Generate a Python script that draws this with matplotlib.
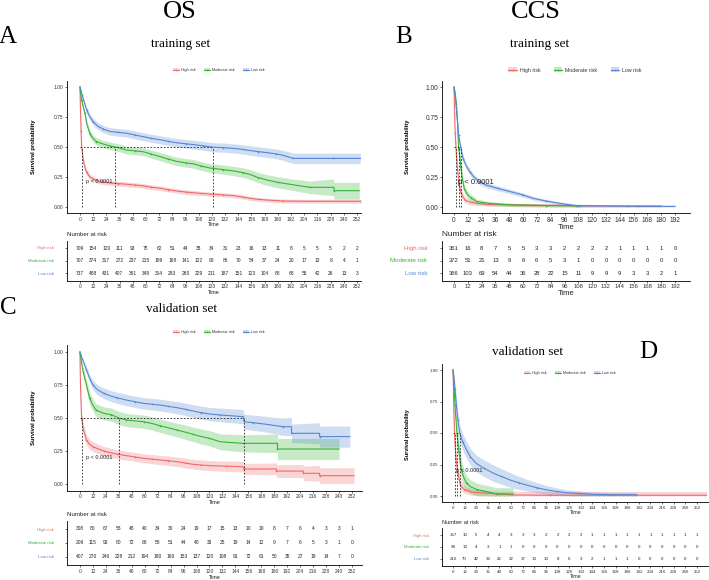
import matplotlib

matplotlib.use("Agg")
import matplotlib.pyplot as plt
from matplotlib.lines import Line2D
from matplotlib.patches import Patch
import numpy as np

W, H = 709, 580

GROUPS = ["High risk", "Moderate risk", "Low risk"]
COLORS = ["#EE6A6A", "#33B533", "#5585D5"]

# ---- OS training (A) ----
A_HIGH_T = [0, 0.5, 1, 1.5, 3, 4.5, 6, 9, 12, 15, 21, 27, 35, 42, 50, 58, 65, 73, 80, 88, 96, 103, 110, 118, 130, 140, 148, 155, 162, 170, 185, 200, 257]
A_HIGH_S = [1.0, 0.80, 0.63, 0.50, 0.39, 0.33, 0.29, 0.25, 0.235, 0.22, 0.207, 0.20, 0.195, 0.19, 0.183, 0.175, 0.165, 0.156, 0.145, 0.133, 0.125, 0.119, 0.113, 0.108, 0.101, 0.094, 0.083, 0.072, 0.064, 0.058, 0.050, 0.048, 0.048]
A_HIGH_CI = [0, 0.03, 0.03, 0.03, 0.028, 0.026, 0.025, 0.023, 0.022, 0.021, 0.021, 0.02, 0.02, 0.02, 0.02, 0.02, 0.02, 0.02, 0.019, 0.019, 0.019, 0.019, 0.018, 0.018, 0.018, 0.018, 0.017, 0.017, 0.016, 0.016, 0.016, 0.016, 0.016]
A_MOD_T = [0, 0.5, 1.5, 3, 4.5, 6, 9, 12, 15, 21, 27, 32, 37, 42, 50, 58, 65, 73, 80, 88, 96, 103, 110, 118, 130, 140, 148, 155, 162, 170, 180, 194, 209, 231, 231, 254]
A_MOD_S = [1.0, 0.95, 0.89, 0.83, 0.78, 0.70, 0.61, 0.57, 0.545, 0.525, 0.51, 0.50, 0.49, 0.475, 0.468, 0.46, 0.44, 0.42, 0.40, 0.38, 0.368, 0.36, 0.342, 0.325, 0.312, 0.30, 0.287, 0.27, 0.245, 0.225, 0.205, 0.185, 0.164, 0.164, 0.136, 0.136]
A_MOD_CI = [0, 0.01, 0.02, 0.024, 0.026, 0.028, 0.03, 0.03, 0.031, 0.031, 0.032, 0.032, 0.032, 0.032, 0.033, 0.033, 0.034, 0.034, 0.035, 0.035, 0.036, 0.036, 0.037, 0.037, 0.038, 0.039, 0.04, 0.041, 0.043, 0.044, 0.046, 0.048, 0.052, 0.07, 0.07, 0.07]
A_LOW_T = [0, 1, 2, 4, 6, 9, 12, 16, 21, 27, 35, 42, 50, 58, 65, 73, 80, 88, 96, 103, 112, 121, 130, 140, 148, 155, 162, 170, 178, 185, 194, 210, 230, 255]
A_LOW_S = [1.0, 0.97, 0.93, 0.87, 0.81, 0.75, 0.71, 0.675, 0.65, 0.63, 0.622, 0.615, 0.60, 0.585, 0.572, 0.56, 0.548, 0.535, 0.527, 0.52, 0.51, 0.498, 0.495, 0.488, 0.48, 0.47, 0.462, 0.453, 0.443, 0.43, 0.405, 0.405, 0.405, 0.405]
A_LOW_CI = [0, 0.005, 0.015, 0.02, 0.024, 0.026, 0.028, 0.029, 0.03, 0.031, 0.032, 0.032, 0.033, 0.033, 0.034, 0.034, 0.035, 0.035, 0.036, 0.036, 0.037, 0.037, 0.038, 0.038, 0.039, 0.039, 0.04, 0.04, 0.041, 0.042, 0.044, 0.044, 0.044, 0.044]

# ---- CCS training (B) ----
B_HIGH_T = [0, 0.5, 1, 2, 3, 4, 6, 8, 10, 14, 20, 30, 60, 100, 150, 180]
B_HIGH_S = [1.0, 0.80, 0.62, 0.45, 0.32, 0.22, 0.12, 0.08, 0.055, 0.04, 0.03, 0.022, 0.016, 0.012, 0.008, 0.008]
B_HIGH_CI = [0, 0.04, 0.05, 0.05, 0.045, 0.04, 0.033, 0.028, 0.023, 0.02, 0.018, 0.015, 0.013, 0.012, 0.01, 0.01]
B_MOD_T = [0, 1, 2, 3, 4, 5, 6, 7, 9, 12, 15, 20, 30, 50, 80, 111]
B_MOD_S = [1.0, 0.95, 0.86, 0.72, 0.49, 0.42, 0.33, 0.25, 0.15, 0.10, 0.075, 0.045, 0.03, 0.017, 0.012, 0.01]
B_MOD_CI = [0, 0.02, 0.035, 0.045, 0.05, 0.05, 0.048, 0.044, 0.036, 0.03, 0.027, 0.02, 0.017, 0.013, 0.012, 0.012]
B_LOW_T = [0, 1, 2, 3, 4, 6, 8, 11, 14, 17, 22, 28, 38, 49, 60, 69, 80, 92, 107, 130, 160, 192]
B_LOW_S = [1.0, 0.93, 0.83, 0.72, 0.60, 0.49, 0.40, 0.336, 0.29, 0.253, 0.21, 0.183, 0.155, 0.128, 0.10, 0.072, 0.05, 0.03, 0.01, 0.008, 0.006, 0.005]
B_LOW_CI = [0, 0.013, 0.02, 0.024, 0.026, 0.026, 0.026, 0.025, 0.024, 0.023, 0.022, 0.021, 0.02, 0.019, 0.017, 0.015, 0.013, 0.012, 0.01, 0.01, 0.01, 0.01]

# ---- OS validation (C) ----
C_HIGH_T = [0, 0.5, 1.5, 3, 6, 9, 12, 17, 22, 28, 35, 43, 51, 59, 67, 74, 82, 90, 98, 105, 112, 120, 135, 151, 152, 182, 182, 207, 207, 222, 222, 254]
C_HIGH_S = [1.0, 0.75, 0.50, 0.42, 0.333, 0.30, 0.283, 0.265, 0.25, 0.237, 0.225, 0.215, 0.205, 0.194, 0.188, 0.182, 0.176, 0.169, 0.158, 0.149, 0.144, 0.139, 0.135, 0.131, 0.114, 0.114, 0.098, 0.098, 0.081, 0.081, 0.063, 0.063]
C_HIGH_CI = [0, 0.04, 0.045, 0.043, 0.04, 0.038, 0.037, 0.036, 0.035, 0.035, 0.034, 0.034, 0.034, 0.034, 0.035, 0.035, 0.036, 0.036, 0.037, 0.037, 0.038, 0.038, 0.039, 0.04, 0.042, 0.045, 0.048, 0.05, 0.055, 0.06, 0.06, 0.06]
C_MOD_T = [0, 1, 3, 6, 9, 12, 15, 22, 29, 36, 43, 51, 59, 67, 74, 82, 90, 98, 105, 112, 120, 130, 151, 183, 183, 240]
C_MOD_S = [1.0, 0.94, 0.85, 0.75, 0.65, 0.595, 0.56, 0.535, 0.525, 0.50, 0.485, 0.478, 0.472, 0.458, 0.442, 0.425, 0.409, 0.392, 0.376, 0.36, 0.346, 0.32, 0.308, 0.308, 0.265, 0.265]
C_MOD_CI = [0, 0.02, 0.03, 0.04, 0.045, 0.047, 0.048, 0.05, 0.05, 0.05, 0.05, 0.05, 0.05, 0.05, 0.05, 0.051, 0.052, 0.054, 0.055, 0.057, 0.058, 0.06, 0.065, 0.07, 0.08, 0.08]
C_LOW_T = [0, 1, 2, 4, 6, 9, 12, 16, 22, 28, 34, 43, 51, 59, 67, 74, 82, 90, 98, 105, 112, 120, 130, 140, 151, 152, 160, 173, 188, 196, 196, 222, 222, 250]
C_LOW_S = [1.0, 0.98, 0.95, 0.91, 0.864, 0.80, 0.75, 0.715, 0.687, 0.668, 0.654, 0.636, 0.623, 0.611, 0.604, 0.598, 0.588, 0.578, 0.565, 0.553, 0.541, 0.53, 0.523, 0.517, 0.51, 0.472, 0.465, 0.452, 0.434, 0.434, 0.384, 0.384, 0.359, 0.359]
C_LOW_CI = [0, 0.004, 0.01, 0.018, 0.025, 0.03, 0.035, 0.038, 0.04, 0.041, 0.042, 0.043, 0.043, 0.044, 0.044, 0.045, 0.045, 0.046, 0.047, 0.048, 0.049, 0.05, 0.052, 0.053, 0.054, 0.056, 0.058, 0.06, 0.065, 0.07, 0.07, 0.08, 0.08, 0.08]

# ---- CCS validation (D) ----
D_HIGH_T = [0, 1, 2, 3, 5, 8, 12, 20, 40, 62, 100, 262]
D_HIGH_S = [1.0, 0.62, 0.42, 0.30, 0.18, 0.08, 0.05, 0.03, 0.02, 0.008, 0.006, 0.006]
D_HIGH_CI = [0, 0.07, 0.07, 0.065, 0.055, 0.04, 0.03, 0.025, 0.02, 0.03, 0.03, 0.03]
D_MOD_T = [0, 1, 2, 4, 6, 7, 9, 11, 14, 18, 25, 35, 45, 62]
D_MOD_S = [1.0, 0.88, 0.72, 0.50, 0.36, 0.29, 0.20, 0.15, 0.10, 0.074, 0.05, 0.034, 0.016, 0.016]
D_MOD_CI = [0, 0.06, 0.08, 0.09, 0.09, 0.085, 0.075, 0.07, 0.06, 0.055, 0.05, 0.05, 0.05, 0.05]
D_LOW_T = [0, 1, 2, 4, 5, 7, 10, 14, 18, 24, 32, 42, 50, 59, 68, 76, 87, 97, 107, 117, 130, 145, 165, 190]
D_LOW_S = [1.0, 0.93, 0.85, 0.68, 0.60, 0.497, 0.43, 0.365, 0.31, 0.259, 0.22, 0.18, 0.155, 0.127, 0.105, 0.087, 0.065, 0.048, 0.036, 0.026, 0.02, 0.013, 0.01, 0.01]
D_LOW_CI = [0, 0.03, 0.045, 0.055, 0.06, 0.065, 0.066, 0.066, 0.066, 0.066, 0.066, 0.065, 0.062, 0.058, 0.052, 0.046, 0.04, 0.034, 0.028, 0.024, 0.02, 0.018, 0.016, 0.016]

# ---- number at risk ----
A_RISK_TIMES = list(range(0, 253, 12))
A_RISK_HIGH = [709, 154, 120, 111, 93, 75, 62, 51, 44, 38, 34, 31, 23, 16, 13, 11, 8, 5, 5, 5, 2, 2]
A_RISK_MOD = [707, 374, 317, 272, 237, 215, 189, 168, 141, 122, 98, 86, 70, 54, 37, 24, 20, 17, 13, 8, 4, 1]
A_RISK_LOW = [737, 488, 431, 407, 361, 348, 314, 283, 260, 229, 211, 187, 151, 123, 104, 88, 68, 55, 42, 26, 13, 3]
B_RISK_TIMES = list(range(0, 193, 12))
B_RISK_HIGH = [361, 16, 8, 7, 5, 5, 3, 3, 2, 2, 2, 2, 1, 1, 1, 1, 0]
B_RISK_MOD = [372, 51, 21, 13, 9, 6, 6, 5, 3, 1, 0, 0, 0, 0, 0, 0, 0]
B_RISK_LOW = [366, 103, 69, 54, 44, 36, 28, 22, 15, 11, 9, 9, 9, 3, 3, 2, 1]
C_RISK_TIMES = list(range(0, 253, 12))
C_RISK_HIGH = [308, 80, 67, 58, 48, 40, 34, 30, 24, 19, 17, 15, 13, 10, 10, 8, 7, 6, 4, 3, 3, 1]
C_RISK_MOD = [209, 115, 93, 80, 72, 68, 58, 51, 44, 40, 33, 25, 19, 14, 12, 9, 7, 6, 5, 3, 1, 0]
C_RISK_LOW = [407, 270, 246, 228, 212, 194, 180, 166, 153, 137, 120, 108, 91, 72, 61, 50, 38, 27, 19, 14, 7, 0]
D_RISK_TIMES = list(range(0, 253, 12))
D_RISK_HIGH = [157, 10, 5, 4, 4, 3, 3, 3, 2, 2, 2, 2, 1, 1, 1, 1, 1, 1, 1, 1, 1, 1]
D_RISK_MOD = [99, 13, 4, 3, 1, 1] + [0] * 16
D_RISK_LOW = [216, 70, 42, 33, 26, 22, 17, 13, 10, 8, 6, 3, 2, 1, 1, 1, 0, 0, 0, 0, 0, 0]


def px_axes(fig, left, top, right, bottom):
    return fig.add_axes([left / W, 1 - bottom / H, (right - left) / W, (bottom - top) / H])


def ftext(fig, x, y, s, **kw):
    fig.text(x / W, 1 - y / H, s, **kw)


def style_axis(ax, fs):
    for side in ("top", "right"):
        ax.spines[side].set_visible(False)
    for side in ("left", "bottom"):
        ax.spines[side].set_linewidth(0.6)
    ax.tick_params(length=1.5, width=0.5, labelsize=fs, pad=1.2, colors="#333333")


def km_panel(fig, box, xlim, curves, fs, pval_xy, pval_fs):
    ax = px_axes(fig, *box)
    medians = []
    for (t, s, ci), col in zip(curves, COLORS):
        t = np.asarray(t, float)
        s = np.asarray(s, float)
        ci = np.asarray(ci, float)
        lo = np.clip(s - ci, 0, 1)
        hi = np.clip(s + ci, 0, 1)
        ax.fill_between(t, lo, hi, color=col, alpha=0.28, lw=0)
        ax.plot(t, s, color=col, lw=0.8)
        ax.plot(t[2::2], s[2::2], ls="none", marker="+", ms=1.8, mew=0.4, color=col)
        below = np.nonzero(s <= 0.5)[0]
        if len(below):
            medians.append(t[below[0]])
    for m in medians:
        ax.plot([m, m], [0, 0.5], ls=(0, (2, 2)), color="#222222", lw=0.6)
    ax.plot([0, max(medians)], [0.5, 0.5], ls=(0, (2, 2)), color="#222222", lw=0.6)
    ax.text(pval_xy[0], pval_xy[1], "p < 0.0001", fontsize=pval_fs, color="#222222")
    ax.set_xlim(*xlim)
    ax.set_ylim(-0.05, 1.05)
    ax.set_yticks([0, 0.25, 0.5, 0.75, 1.0])
    ax.set_yticklabels(["0.00", "0.25", "0.50", "0.75", "1.00"])
    style_axis(ax, fs)
    return ax


def risk_table(fig, box, xlim, times, rows, fs, label_fs, label_pad):
    ax = px_axes(fig, *box)
    for yi, (vals, col) in enumerate(zip(rows, COLORS)):
        y = 3 - yi
        for t, v in zip(times, vals):
            ax.text(t, y, str(v), ha="center", va="center", fontsize=fs, color="#222222")
    ax.set_xlim(*xlim)
    ax.set_ylim(0.4, 3.6)
    ax.set_yticks([3, 2, 1])
    ax.set_yticklabels(GROUPS)
    style_axis(ax, fs)
    ax.tick_params(axis="y", labelsize=label_fs, pad=label_pad)
    for lab, col in zip(ax.get_yticklabels(), COLORS):
        lab.set_color(col)
    ax.set_xticks(times)
    return ax


def legend(fig, cx, cy, fs, gap):
    handles = []
    for col in COLORS:
        handles.append((Patch(facecolor=col, alpha=0.3, lw=0),
                        Line2D([0], [0], color=col, lw=0.8, marker="+", ms=2, mew=0.4)))
    fig.legend(handles, GROUPS, loc="center", bbox_to_anchor=(cx / W, 1 - cy / H),
               ncol=3, frameon=False, fontsize=fs, handlelength=1.6, handleheight=0.9,
               handletextpad=0.6, columnspacing=gap, labelcolor="#333333")


plt.rcParams["font.family"] = ["Liberation Sans", "DejaVu Sans"]
fig = plt.figure(figsize=(W / 100, H / 100), dpi=100)
serif = ["Liberation Serif", "DejaVu Serif"]

# headings
ftext(fig, 180, 12, "OS", fontsize=19, family=serif, ha="center", va="center")
ftext(fig, 536, 12, "CCS", fontsize=19, family=serif, ha="center", va="center")
ftext(fig, 8, 37, "A", fontsize=18, family=serif, ha="center", va="center")
ftext(fig, 404, 37, "B", fontsize=18, family=serif, ha="center", va="center")
ftext(fig, 8, 308, "C", fontsize=18, family=serif, ha="center", va="center")
ftext(fig, 648, 352, "D", fontsize=18, family=serif, ha="center", va="center")
ftext(fig, 181, 44, "training set", fontsize=9.5, family=serif, ha="center", va="center")
ftext(fig, 540, 44, "training set", fontsize=9.5, family=serif, ha="center", va="center")
ftext(fig, 182, 309, "validation set", fontsize=9.5, family=serif, ha="center", va="center")
ftext(fig, 528, 352, "validation set", fontsize=9.5, family=serif, ha="center", va="center")

# A
xa = (-11.8, 255.6)
ax = km_panel(fig, (67, 81, 361, 213), xa,
              [(A_HIGH_T, A_HIGH_S, A_HIGH_CI), (A_MOD_T, A_MOD_S, A_MOD_CI), (A_LOW_T, A_LOW_S, A_LOW_CI)],
              3.5, (5.5, 0.2), 4)
ax.set_xticks(A_RISK_TIMES)
ax.set_xlabel("Time", fontsize=4, labelpad=0.5, color="#222222")
ftext(fig, 33, 147, "Survival probability", fontsize=4.2, fontweight="bold", rotation=90, ha="center", va="center")
legend(fig, 219, 70, 2.7, 2.2)
tb = risk_table(fig, (67, 240.5, 361, 280.5), xa, A_RISK_TIMES, [A_RISK_HIGH, A_RISK_MOD, A_RISK_LOW], 3.5, 3.2, 8)
tb.set_xlabel("Time", fontsize=4, labelpad=0.5, color="#222222")
ftext(fig, 67, 234, "Number at risk", fontsize=4.4, va="center", color="#222222")

# B
xb = (-10.4, 205)
ax = km_panel(fig, (442, 81, 690, 213), xb,
              [(B_HIGH_T, B_HIGH_S, B_HIGH_CI), (B_MOD_T, B_MOD_S, B_MOD_CI), (B_LOW_T, B_LOW_S, B_LOW_CI)],
              4.8, (3.5, 0.19), 5.4)
ax.set_xticks(B_RISK_TIMES)
ax.set_xlabel("Time", fontsize=5.5, labelpad=0.3, color="#222222")
ftext(fig, 408, 147, "Survival probability", fontsize=4.2, fontweight="bold", rotation=90, ha="center", va="center")
legend(fig, 575, 70, 3.8, 2.5)
tb = risk_table(fig, (442, 240.5, 690, 280.5), xb, B_RISK_TIMES, [B_RISK_HIGH, B_RISK_MOD, B_RISK_LOW], 4.2, 4.4, 9)
tb.set_xlabel("Time", fontsize=5.5, labelpad=0.3, color="#222222")
ftext(fig, 442, 234, "Number at risk", fontsize=6, va="center", color="#222222")

# C
xc = (-12.0, 261.3)
ax = km_panel(fig, (67, 345.4, 362, 490.6), xc,
              [(C_HIGH_T, C_HIGH_S, C_HIGH_CI), (C_MOD_T, C_MOD_S, C_MOD_CI), (C_LOW_T, C_LOW_S, C_LOW_CI)],
              3.5, (5.6, 0.19), 4)
ax.set_xticks(C_RISK_TIMES)
ax.set_xlabel("Time", fontsize=4, labelpad=0.5, color="#222222")
ftext(fig, 33, 418, "Survival probability", fontsize=4.2, fontweight="bold", rotation=90, ha="center", va="center")
legend(fig, 219, 332, 2.7, 2.2)
tb = risk_table(fig, (67, 520.6, 362, 565.4), xc, C_RISK_TIMES, [C_RISK_HIGH, C_RISK_MOD, C_RISK_LOW], 3.5, 3.2, 8)
tb.set_xlabel("Time", fontsize=4, labelpad=0.5, color="#222222")
ftext(fig, 67, 514, "Number at risk", fontsize=4.4, va="center", color="#222222")

# D
xd = (-11.4, 264.5)
ax = km_panel(fig, (442, 363.7, 709, 502.3), xd,
              [(D_HIGH_T, D_HIGH_S, D_HIGH_CI), (D_MOD_T, D_MOD_S, D_MOD_CI), (D_LOW_T, D_LOW_S, D_LOW_CI)],
              3.2, (3, 0.19), 4)
ax.set_xticks(D_RISK_TIMES)
ax.set_xlabel("Time", fontsize=3.8, labelpad=0.3, color="#222222")
ftext(fig, 407, 435, "Survival probability", fontsize=4.0, fontweight="bold", rotation=90, ha="center", va="center")
legend(fig, 570, 373, 2.7, 2.2)
tb = risk_table(fig, (442, 527.8, 709, 566.2), xd, D_RISK_TIMES, [D_RISK_HIGH, D_RISK_MOD, D_RISK_LOW], 3.2, 3.0, 8)
tb.set_xlabel("Time", fontsize=3.8, labelpad=0.3, color="#222222")
ftext(fig, 442, 523, "Number at risk", fontsize=4.1, va="center", color="#222222")

fig.savefig("out.png", dpi=100)
